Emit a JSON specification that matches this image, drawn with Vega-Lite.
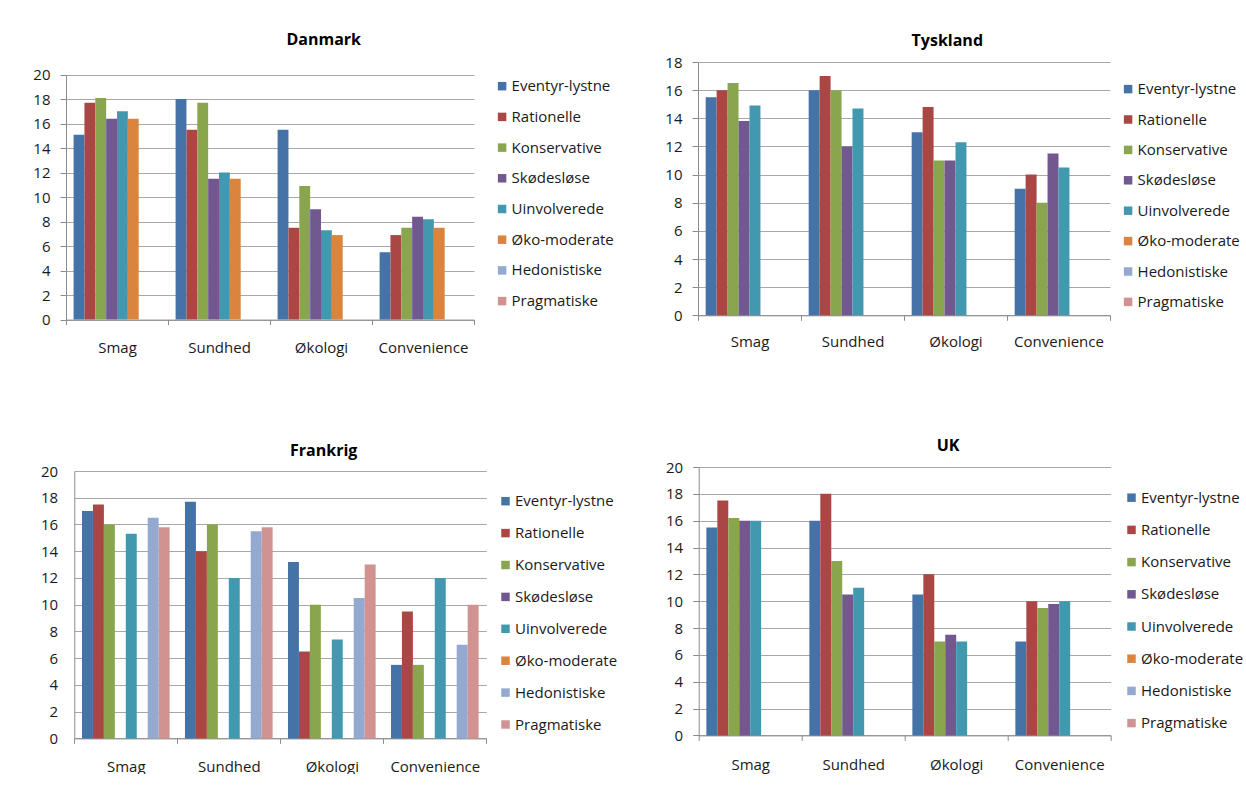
{
  "$schema": "https://vega.github.io/schema/vega-lite/v6.json",
  "padding": {"left": 32, "top": 31, "right": 0, "bottom": 0},
  "config": {
    "font": "Open Sans",
    "view": {"stroke": null},
    "axis": {"labelFont": "Open Sans", "labelFontSize": 15, "labelColor": "#1a1a1a", "domainColor": "#8c8c8c", "tickColor": "#8c8c8c", "gridColor": "#a8a8a8", "title": null},
    "legend": {"labelFont": "Open Sans", "labelFontSize": 15, "labelColor": "#1a1a1a", "symbolType": "square", "symbolSize": 72, "symbolStrokeWidth": 0, "labelOffset": 2, "title": null, "orient": "none", "padding": 0},
    "title": {"font": "Open Sans", "fontSize": 16, "fontWeight": "bold", "color": "#000000", "anchor": "middle", "frame": "group"}
  },
  "datasets": {
    "d": [
      {"land": "Danmark", "kategori": "Smag", "segment": "Eventyr-lystne", "vaerdi": 15.1},
      {"land": "Danmark", "kategori": "Smag", "segment": "Rationelle", "vaerdi": 17.7},
      {"land": "Danmark", "kategori": "Smag", "segment": "Konservative", "vaerdi": 18.1},
      {"land": "Danmark", "kategori": "Smag", "segment": "Skødesløse", "vaerdi": 16.4},
      {"land": "Danmark", "kategori": "Smag", "segment": "Uinvolverede", "vaerdi": 17.0},
      {"land": "Danmark", "kategori": "Smag", "segment": "Øko-moderate", "vaerdi": 16.4},
      {"land": "Danmark", "kategori": "Sundhed", "segment": "Eventyr-lystne", "vaerdi": 18.0},
      {"land": "Danmark", "kategori": "Sundhed", "segment": "Rationelle", "vaerdi": 15.5},
      {"land": "Danmark", "kategori": "Sundhed", "segment": "Konservative", "vaerdi": 17.7},
      {"land": "Danmark", "kategori": "Sundhed", "segment": "Skødesløse", "vaerdi": 11.5},
      {"land": "Danmark", "kategori": "Sundhed", "segment": "Uinvolverede", "vaerdi": 12.0},
      {"land": "Danmark", "kategori": "Sundhed", "segment": "Øko-moderate", "vaerdi": 11.5},
      {"land": "Danmark", "kategori": "Økologi", "segment": "Eventyr-lystne", "vaerdi": 15.5},
      {"land": "Danmark", "kategori": "Økologi", "segment": "Rationelle", "vaerdi": 7.5},
      {"land": "Danmark", "kategori": "Økologi", "segment": "Konservative", "vaerdi": 10.9},
      {"land": "Danmark", "kategori": "Økologi", "segment": "Skødesløse", "vaerdi": 9.0},
      {"land": "Danmark", "kategori": "Økologi", "segment": "Uinvolverede", "vaerdi": 7.3},
      {"land": "Danmark", "kategori": "Økologi", "segment": "Øko-moderate", "vaerdi": 6.9},
      {"land": "Danmark", "kategori": "Convenience", "segment": "Eventyr-lystne", "vaerdi": 5.5},
      {"land": "Danmark", "kategori": "Convenience", "segment": "Rationelle", "vaerdi": 6.9},
      {"land": "Danmark", "kategori": "Convenience", "segment": "Konservative", "vaerdi": 7.5},
      {"land": "Danmark", "kategori": "Convenience", "segment": "Skødesløse", "vaerdi": 8.4},
      {"land": "Danmark", "kategori": "Convenience", "segment": "Uinvolverede", "vaerdi": 8.2},
      {"land": "Danmark", "kategori": "Convenience", "segment": "Øko-moderate", "vaerdi": 7.5},

      {"land": "Tyskland", "kategori": "Smag", "segment": "Eventyr-lystne", "vaerdi": 15.5},
      {"land": "Tyskland", "kategori": "Smag", "segment": "Rationelle", "vaerdi": 16.0},
      {"land": "Tyskland", "kategori": "Smag", "segment": "Konservative", "vaerdi": 16.5},
      {"land": "Tyskland", "kategori": "Smag", "segment": "Skødesløse", "vaerdi": 13.8},
      {"land": "Tyskland", "kategori": "Smag", "segment": "Uinvolverede", "vaerdi": 14.9},
      {"land": "Tyskland", "kategori": "Sundhed", "segment": "Eventyr-lystne", "vaerdi": 16.0},
      {"land": "Tyskland", "kategori": "Sundhed", "segment": "Rationelle", "vaerdi": 17.0},
      {"land": "Tyskland", "kategori": "Sundhed", "segment": "Konservative", "vaerdi": 16.0},
      {"land": "Tyskland", "kategori": "Sundhed", "segment": "Skødesløse", "vaerdi": 12.0},
      {"land": "Tyskland", "kategori": "Sundhed", "segment": "Uinvolverede", "vaerdi": 14.7},
      {"land": "Tyskland", "kategori": "Økologi", "segment": "Eventyr-lystne", "vaerdi": 13.0},
      {"land": "Tyskland", "kategori": "Økologi", "segment": "Rationelle", "vaerdi": 14.8},
      {"land": "Tyskland", "kategori": "Økologi", "segment": "Konservative", "vaerdi": 11.0},
      {"land": "Tyskland", "kategori": "Økologi", "segment": "Skødesløse", "vaerdi": 11.0},
      {"land": "Tyskland", "kategori": "Økologi", "segment": "Uinvolverede", "vaerdi": 12.3},
      {"land": "Tyskland", "kategori": "Convenience", "segment": "Eventyr-lystne", "vaerdi": 9.0},
      {"land": "Tyskland", "kategori": "Convenience", "segment": "Rationelle", "vaerdi": 10.0},
      {"land": "Tyskland", "kategori": "Convenience", "segment": "Konservative", "vaerdi": 8.0},
      {"land": "Tyskland", "kategori": "Convenience", "segment": "Skødesløse", "vaerdi": 11.5},
      {"land": "Tyskland", "kategori": "Convenience", "segment": "Uinvolverede", "vaerdi": 10.5},

      {"land": "Frankrig", "kategori": "Smag", "segment": "Eventyr-lystne", "vaerdi": 17.0},
      {"land": "Frankrig", "kategori": "Smag", "segment": "Rationelle", "vaerdi": 17.5},
      {"land": "Frankrig", "kategori": "Smag", "segment": "Konservative", "vaerdi": 16.0},
      {"land": "Frankrig", "kategori": "Smag", "segment": "Uinvolverede", "vaerdi": 15.3},
      {"land": "Frankrig", "kategori": "Smag", "segment": "Hedonistiske", "vaerdi": 16.5},
      {"land": "Frankrig", "kategori": "Smag", "segment": "Pragmatiske", "vaerdi": 15.8},
      {"land": "Frankrig", "kategori": "Sundhed", "segment": "Eventyr-lystne", "vaerdi": 17.7},
      {"land": "Frankrig", "kategori": "Sundhed", "segment": "Rationelle", "vaerdi": 14.0},
      {"land": "Frankrig", "kategori": "Sundhed", "segment": "Konservative", "vaerdi": 16.0},
      {"land": "Frankrig", "kategori": "Sundhed", "segment": "Uinvolverede", "vaerdi": 12.0},
      {"land": "Frankrig", "kategori": "Sundhed", "segment": "Hedonistiske", "vaerdi": 15.5},
      {"land": "Frankrig", "kategori": "Sundhed", "segment": "Pragmatiske", "vaerdi": 15.8},
      {"land": "Frankrig", "kategori": "Økologi", "segment": "Eventyr-lystne", "vaerdi": 13.2},
      {"land": "Frankrig", "kategori": "Økologi", "segment": "Rationelle", "vaerdi": 6.5},
      {"land": "Frankrig", "kategori": "Økologi", "segment": "Konservative", "vaerdi": 10.0},
      {"land": "Frankrig", "kategori": "Økologi", "segment": "Uinvolverede", "vaerdi": 7.4},
      {"land": "Frankrig", "kategori": "Økologi", "segment": "Hedonistiske", "vaerdi": 10.5},
      {"land": "Frankrig", "kategori": "Økologi", "segment": "Pragmatiske", "vaerdi": 13.0},
      {"land": "Frankrig", "kategori": "Convenience", "segment": "Eventyr-lystne", "vaerdi": 5.5},
      {"land": "Frankrig", "kategori": "Convenience", "segment": "Rationelle", "vaerdi": 9.5},
      {"land": "Frankrig", "kategori": "Convenience", "segment": "Konservative", "vaerdi": 5.5},
      {"land": "Frankrig", "kategori": "Convenience", "segment": "Uinvolverede", "vaerdi": 12.0},
      {"land": "Frankrig", "kategori": "Convenience", "segment": "Hedonistiske", "vaerdi": 7.0},
      {"land": "Frankrig", "kategori": "Convenience", "segment": "Pragmatiske", "vaerdi": 10.0},

      {"land": "UK", "kategori": "Smag", "segment": "Eventyr-lystne", "vaerdi": 15.5},
      {"land": "UK", "kategori": "Smag", "segment": "Rationelle", "vaerdi": 17.5},
      {"land": "UK", "kategori": "Smag", "segment": "Konservative", "vaerdi": 16.2},
      {"land": "UK", "kategori": "Smag", "segment": "Skødesløse", "vaerdi": 16.0},
      {"land": "UK", "kategori": "Smag", "segment": "Uinvolverede", "vaerdi": 16.0},
      {"land": "UK", "kategori": "Sundhed", "segment": "Eventyr-lystne", "vaerdi": 16.0},
      {"land": "UK", "kategori": "Sundhed", "segment": "Rationelle", "vaerdi": 18.0},
      {"land": "UK", "kategori": "Sundhed", "segment": "Konservative", "vaerdi": 13.0},
      {"land": "UK", "kategori": "Sundhed", "segment": "Skødesløse", "vaerdi": 10.5},
      {"land": "UK", "kategori": "Sundhed", "segment": "Uinvolverede", "vaerdi": 11.0},
      {"land": "UK", "kategori": "Økologi", "segment": "Eventyr-lystne", "vaerdi": 10.5},
      {"land": "UK", "kategori": "Økologi", "segment": "Rationelle", "vaerdi": 12.0},
      {"land": "UK", "kategori": "Økologi", "segment": "Konservative", "vaerdi": 7.0},
      {"land": "UK", "kategori": "Økologi", "segment": "Skødesløse", "vaerdi": 7.5},
      {"land": "UK", "kategori": "Økologi", "segment": "Uinvolverede", "vaerdi": 7.0},
      {"land": "UK", "kategori": "Convenience", "segment": "Eventyr-lystne", "vaerdi": 7.0},
      {"land": "UK", "kategori": "Convenience", "segment": "Rationelle", "vaerdi": 10.0},
      {"land": "UK", "kategori": "Convenience", "segment": "Konservative", "vaerdi": 9.5},
      {"land": "UK", "kategori": "Convenience", "segment": "Skødesløse", "vaerdi": 9.8},
      {"land": "UK", "kategori": "Convenience", "segment": "Uinvolverede", "vaerdi": 10.0}
    ]
  },
  "resolve": {"scale": {"color": "independent", "y": "independent", "x": "independent", "xOffset": "independent"}, "legend": {"color": "independent"}, "axis": {"x": "independent", "y": "independent"}},
  "spacing": 82,
  "vconcat": [
    {
      "spacing": 224,
      "bounds": "flush",
      "resolve": {"scale": {"color": "independent", "y": "independent", "x": "independent", "xOffset": "independent"}, "legend": {"color": "independent"}, "axis": {"x": "independent", "y": "independent"}},
      "hconcat": [
        {
          "data": {"name": "d"},
          "transform": [{"filter": {"field": "land", "equal": "Danmark"}}],
          "title": {"text": "Danmark", "offset": 14.4, "dx": 53.7},
          "width": 408,
          "height": 257.6,
          "mark": {"type": "bar"},
          "encoding": {
            "x": {"field": "kategori", "type": "nominal", "sort": ["Smag", "Sundhed", "Økologi", "Convenience"], "scale": {"paddingInner": 0, "paddingOuter": 0}, "axis": {"labelAngle": 0, "tickBand": "extent", "tickSize": 5, "labelPadding": 15.7, "grid": false}},
            "xOffset": {"field": "segment", "type": "nominal", "scale": {"domain": ["Eventyr-lystne", "Rationelle", "Konservative", "Skødesløse", "Uinvolverede", "Øko-moderate", "Hedonistiske", "Pragmatiske"], "paddingInner": 0, "paddingOuter": 0.7}},
            "y": {"field": "vaerdi", "type": "quantitative", "scale": {"domain": [0, 20], "nice": false, "range": [257.6, 12.6]}, "axis": {"values": [0, 2, 4, 6, 8, 10, 12, 14, 16, 18, 20], "tickSize": 6, "labelPadding": 10, "grid": true}},
            "color": {"field": "segment", "type": "nominal", "scale": {"domain": ["Eventyr-lystne", "Rationelle", "Konservative", "Skødesløse", "Uinvolverede", "Øko-moderate", "Hedonistiske", "Pragmatiske"], "range": ["#4572A7", "#AA4643", "#89A54E", "#71588F", "#4198AF", "#DB843D", "#93A9CF", "#D19392"]}, "legend": {"legendX": 428.6, "legendY": 16.7, "rowPadding": 14.7}}
          }
        },
        {
          "data": {"name": "d"},
          "transform": [{"filter": {"field": "land", "equal": "Tyskland"}}],
          "title": {"text": "Tyskland", "offset": 5.8, "dx": 43.3},
          "width": 412,
          "height": 253.3,
          "mark": {"type": "bar"},
          "encoding": {
            "x": {"field": "kategori", "type": "nominal", "sort": ["Smag", "Sundhed", "Økologi", "Convenience"], "scale": {"paddingInner": 0, "paddingOuter": 0}, "axis": {"labelAngle": 0, "tickBand": "extent", "tickSize": 5, "labelPadding": 14, "grid": false}},
            "xOffset": {"field": "segment", "type": "nominal", "scale": {"domain": ["Eventyr-lystne", "Rationelle", "Konservative", "Skødesløse", "Uinvolverede", "Øko-moderate", "Hedonistiske", "Pragmatiske"], "paddingInner": 0, "paddingOuter": 0.7}},
            "y": {"field": "vaerdi", "type": "quantitative", "scale": {"domain": [0, 18], "nice": false}, "axis": {"values": [0, 2, 4, 6, 8, 10, 12, 14, 16, 18], "tickSize": 6, "labelPadding": 10, "grid": true}},
            "color": {"field": "segment", "type": "nominal", "scale": {"domain": ["Eventyr-lystne", "Rationelle", "Konservative", "Skødesløse", "Uinvolverede", "Øko-moderate", "Hedonistiske", "Pragmatiske"], "range": ["#4572A7", "#AA4643", "#89A54E", "#71588F", "#4198AF", "#DB843D", "#93A9CF", "#D19392"]}, "legend": {"legendX": 422.6, "legendY": 19.6, "rowPadding": 14.4}}
          }
        }
      ]
    },
    {
      "spacing": 211.7,
      "bounds": "flush",
      "resolve": {"scale": {"color": "independent", "y": "independent", "x": "independent", "xOffset": "independent"}, "legend": {"color": "independent"}, "axis": {"x": "independent", "y": "independent"}},
      "hconcat": [
        {
          "data": {"name": "d"},
          "transform": [{"filter": {"field": "land", "equal": "Frankrig"}}],
          "title": {"text": "Frankrig", "offset": 5, "dx": 47.5},
          "width": 420.3,
          "height": 271.4,
          "mark": {"type": "bar"},
          "encoding": {
            "x": {"field": "kategori", "type": "nominal", "sort": ["Smag", "Sundhed", "Økologi", "Convenience"], "scale": {"paddingInner": 0, "paddingOuter": 0, "range": [8.3, 420.3]}, "axis": {"labelAngle": 0, "tickBand": "extent", "tickSize": 5, "labelPadding": 15.6, "grid": false}},
            "xOffset": {"field": "segment", "type": "nominal", "scale": {"domain": ["Eventyr-lystne", "Rationelle", "Konservative", "Skødesløse", "Uinvolverede", "Øko-moderate", "Hedonistiske", "Pragmatiske"], "paddingInner": 0, "paddingOuter": 0.7}},
            "y": {"field": "vaerdi", "type": "quantitative", "scale": {"domain": [0, 20], "nice": false, "range": [271.4, 4]}, "axis": {"values": [0, 2, 4, 6, 8, 10, 12, 14, 16, 18, 20], "offset": -8.3, "ticks": false, "labelPadding": 16.7, "grid": true}},
            "color": {"field": "segment", "type": "nominal", "scale": {"domain": ["Eventyr-lystne", "Rationelle", "Konservative", "Skødesløse", "Uinvolverede", "Øko-moderate", "Hedonistiske", "Pragmatiske"], "range": ["#4572A7", "#AA4643", "#89A54E", "#71588F", "#4198AF", "#DB843D", "#93A9CF", "#D19392"]}, "legend": {"legendX": 432, "legendY": 26.7, "rowPadding": 15.9}}
          }
        },
        {
          "data": {"name": "d"},
          "transform": [{"filter": {"field": "land", "equal": "UK"}}],
          "title": {"text": "UK", "offset": 5.8, "dx": 43.3},
          "width": 412,
          "height": 268.4,
          "mark": {"type": "bar"},
          "encoding": {
            "x": {"field": "kategori", "type": "nominal", "sort": ["Smag", "Sundhed", "Økologi", "Convenience"], "scale": {"paddingInner": 0, "paddingOuter": 0}, "axis": {"labelAngle": 0, "tickBand": "extent", "tickSize": 5, "labelPadding": 16.6, "grid": false}},
            "xOffset": {"field": "segment", "type": "nominal", "scale": {"domain": ["Eventyr-lystne", "Rationelle", "Konservative", "Skødesløse", "Uinvolverede", "Øko-moderate", "Hedonistiske", "Pragmatiske"], "paddingInner": 0, "paddingOuter": 0.7}},
            "y": {"field": "vaerdi", "type": "quantitative", "scale": {"domain": [0, 20], "nice": false}, "axis": {"values": [0, 2, 4, 6, 8, 10, 12, 14, 16, 18, 20], "tickSize": 6, "labelPadding": 10, "grid": true}},
            "color": {"field": "segment", "type": "nominal", "scale": {"domain": ["Eventyr-lystne", "Rationelle", "Konservative", "Skødesløse", "Uinvolverede", "Øko-moderate", "Hedonistiske", "Pragmatiske"], "range": ["#4572A7", "#AA4643", "#89A54E", "#71588F", "#4198AF", "#DB843D", "#93A9CF", "#D19392"]}, "legend": {"legendX": 425.3, "legendY": 23.2, "rowPadding": 16.2}}
          }
        }
      ]
    }
  ]
}
